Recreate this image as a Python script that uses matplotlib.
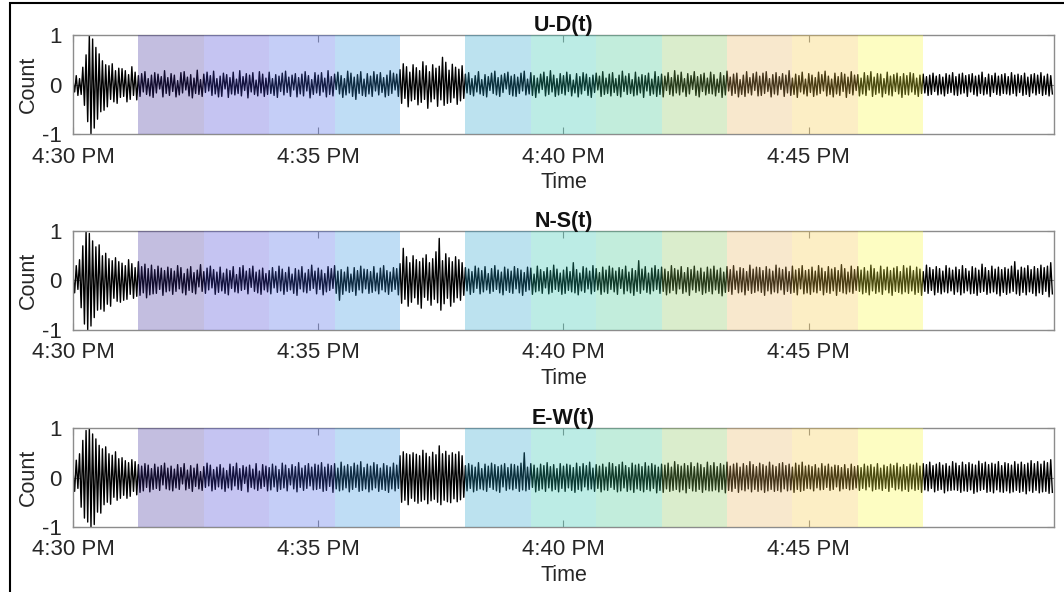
import matplotlib.pyplot as plt
import numpy as np
from matplotlib.patches import Rectangle

plt.rcParams['font.family'] = ['Liberation Sans', 'DejaVu Sans']

# seismometer counts (x0.01), one sample every 2 s starting 4:30 PM, one row per minute
dt = 2

ud = [8, -15, 18, -22, 12, -20, 35, -42, 60, -75, 100, -100, 92, -88, 75, -70, 62, -55, 48, -52, 40, -45, 38, -30, 42, -35, 28, -38, 33, -26,
      32, -24, 28, -35, 20, -30, 36, -22, 25, -31, 18, -24, 22, -15, 26, -20, 12, -23, 19, -26, 24, -17, 21, -9, 16, -25, 28, -18, 14, -22,
      22, -14, 19, -25, 8, -21, 24, -17, 26, -11, 15, -23, 20, -27, 13, -18, 29, -20, 10, -24, 21, -16, 25, -13, 18, -22, 27, -19, 12, -25,
      17, -24, 23, -9, 20, -26, 14, -19, 25, -21, 11, -18, 28, -23, 16, -12, 22, -27, 19, -15, 24, -20, 9, -23, 26, -17, 21, -24, 13, -20,
      25, -18, 12, -22, 20, -26, 17, -14, 23, -21, 27, -16, 15, -24, 19, -11, 22, -25, 14, -19, 21, -23, 26, -13, 18, -27, 10, -20, 24, -17,
      19, -22, 24, -15, 13, -25, 28, -20, 16, -23, 21, -10, 25, -19, 18, -26, 12, -21, 27, -17, 23, -24, 15, -30, 20, -18, 26, -22, 11, -24,
      22, -19, 17, -24, 26, -13, 20, -21, 24, -16, 14, -25, 19, -22, 28, -18, 23, -11, 21, -24, 30, -38, 42, -28, 36, -45, 25, -33, 40, -30,
      34, -41, 28, -36, 46, -30, 38, -48, 26, -35, 40, -29, 33, -44, 37, -31, 55, -42, 45, -38, 29, -36, 41, -27, 35, -40, 31, -33, 38, -28,
      21, -17, 24, -20, 12, -23, 18, -15, 26, -19, 10, -22, 20, -25, 16, -12, 23, -18, 27, -21, 14, -24, 19, -16, 22, -9, 25, -20, 17, -23,
      20, -24, 15, -18, 23, -13, 27, -21, 11, -19, 24, -22, 18, -26, 13, -17, 21, -10, 25, -23, 16, -20, 28, -15, 19, -24, 12, -21, 22, -18,
      18, -21, 25, -14, 20, -23, 9, -17, 22, -25, 16, -19, 24, -12, 21, -22, 14, -26, 19, -16, 23, -11, 17, -24, 26, -20, 13, -18, 21, -23,
      24, -16, 12, -22, 19, -25, 27, -14, 17, -20, 22, -18, 10, -23, 25, -21, 15, -17, 20, -26, 18, -13, 23, -22, 11, -19, 26, -24, 16, -20,
      21, -25, 17, -12, 24, -20, 14, -23, 28, -17, 19, -21, 25, -15, 12, -24, 22, -19, 18, -10, 26, -22, 16, -25, 20, -14, 23, -21, 13, -18,
      25, -19, 20, -23, 11, -16, 24, -26, 18, -21, 27, -13, 15, -22, 21, -18, 23, -25, 10, -20, 19, -24, 26, -17, 14, -21, 22, -12, 25, -23,
      17, -22, 23, -18, 26, -14, 12, -25, 20, -19, 24, -21, 16, -10, 22, -24, 19, -17, 28, -22, 13, -20, 21, -26, 18, -15, 25, -19, 11, -23,
      22, -16, 19, -24, 14, -21, 25, -18, 20, -13, 27, -23, 17, -20, 11, -25, 23, -19, 16, -22, 24, -14, 21, -26, 15, -18, 26, -21, 19, -12,
      20, -23, 13, -19, 24, -22, 18, -11, 26, -24, 15, -20, 22, -17, 21, -25, 12, -18, 25, -21, 17, -23, 20, -14, 23, -19, 16, -26, 22, -20,
      18, -21, 24, -15, 22, -20, 13, -24, 19, -18, 21, -17, 16, -22, 19, -20, 23, -14, 17, -21, 20, -19, 15, -23, 22, -18, 19, -16, 24, -21,
      16, -22, 21, -19, 23, -17, 18, -24, 20, -15, 22, -20, 17, -23, 19, -18, 25, -21, 14, -19, 21, -24, 18, -16, 23, -20, 17, -22, 20, -18,
      22, -19, 16, -21, 24, -18, 19, -23, 21, -16, 18, -22, 23, -20, 15, -24, 20, -17, 22, -21, 19, -18, 24, -22, 17, -20, 21, -23, 18, -19]

ns = [12, -25, 30, -18, 42, -55, 70, -88, 100, -100, 95, -92, 80, -75, 68, -60, 72, -58, 50, -62, 55, -48, 44, -52, 40, -36, 46, -42, 38, -44,
      35, -40, 30, -38, 42, -28, 34, -36, 26, -32, 38, -30, 28, -25, 33, -35, 24, -29, 31, -27, 22, -26, 29, -18, 25, -30, 20, -23, 27, -21,
      24, -28, 19, -22, 30, -17, 26, -25, 14, -29, 23, -20, 28, -24, 16, -27, 21, -13, 32, -22, 18, -26, 25, -19, 29, -15, 22, -28, 17, -24,
      27, -21, 15, -26, 23, -29, 20, -16, 28, -23, 12, -25, 26, -20, 30, -18, 19, -27, 24, -14, 29, -22, 17, -25, 21, -28, 25, -19, 14, -23,
      20, -27, 26, -15, 18, -24, 29, -21, 23, -28, 16, -22, 27, -19, 13, -26, 24, -30, 21, -17, 28, -23, 15, -25, 22, -20, 31, -16, 19, -27,
      25, -18, 21, -29, 14, -23, 28, -20, 24, -16, 30, -26, 19, -40, 22, -28, 17, -21, 27, -24, 13, -22, 26, -30, 20, -19, 29, -25, 23, -17,
      22, -26, 18, -24, 28, -21, 15, -27, 25, -19, 30, -23, 20, -28, 17, -22, 26, -18, 24, -29, 34, -46, 65, -38, 48, -52, 36, -44, 50, -35,
      42, -48, 38, -56, 45, -34, 52, -40, 36, -50, 44, -38, 58, -45, 85, -60, 40, -47, 54, -36, 46, -52, 38, -44, 48, -35, 42, -40, 36, -30,
      26, -21, 23, -28, 18, -24, 29, -16, 25, -27, 20, -23, 28, -19, 14, -26, 24, -22, 30, -18, 21, -25, 17, -29, 27, -20, 23, -24, 19, -26,
      28, -17, 24, -25, 21, -30, 16, -22, 27, -19, 25, -28, 13, -23, 29, -21, 22, -26, 18, -15, 26, -27, 20, -24, 31, -18, 23, -22, 15, -28,
      21, -26, 27, -20, 18, -23, 36, -25, 22, -29, 15, -21, 28, -24, 25, -17, 19, -27, 30, -22, 24, -19, 16, -28, 27, -23, 21, -26, 29, -18,
      25, -23, 19, -28, 26, -16, 22, -27, 29, -21, 17, -25, 24, -30, 20, -22, 40, -26, 23, -19, 28, -24, 15, -27, 25, -21, 30, -18, 22, -26,
      27, -22, 23, -29, 18, -25, 30, -20, 24, -27, 21, -17, 28, -26, 16, -23, 26, -30, 22, -19, 29, -24, 19, -21, 25, -28, 17, -25, 27, -22,
      23, -27, 29, -19, 21, -26, 25, -31, 17, -24, 28, -22, 22, -28, 30, -18, 19, -25, 26, -23, 24, -29, 18, -20, 31, -26, 23, -24, 27, -21,
      26, -24, 20, -30, 28, -21, 23, -27, 19, -23, 31, -25, 25, -19, 22, -28, 27, -22, 18, -26, 29, -24, 21, -29, 24, -17, 30, -27, 20, -25,
      22, -28, 27, -23, 19, -25, 30, -20, 25, -29, 18, -24, 28, -26, 23, -21, 26, -30, 20, -22, 32, -25, 24, -27, 17, -23, 29, -26, 22, -20,
      28, -22, 21, -27, 26, -24, 19, -29, 31, -21, 24, -26, 17, -23, 29, -28, 22, -19, 27, -25, 20, -30, 25, -22, 28, -24, 18, -27, 30, -23,
      25, -26, 29, -21, 20, -28, 27, -24, 23, -30, 18, -22, 31, -26, 26, -20, 22, -29, 28, -24, 24, -27, 19, -23, 30, -25, 25, -21, 21, -28,
      27, -23, 22, -29, 30, -25, 24, -21, 19, -27, 28, -26, 25, -30, 21, -24, 33, -22, 26, -28, 20, -25, 29, -23, 23, -27, 27, -31, 22, -24,
      26, -28, 23, -25, 29, -22, 38, -27, 21, -30, 27, -24, 25, -29, 30, -23, 22, -26, 28, -31, 24, -25, 31, -28, 26, -22, 29, -33, 36, -27]

ew = [15, -28, 35, -22, 48, -60, 75, -82, 95, -90, 100, -100, 88, -95, 78, -70, 65, -72, 58, -55, 62, -50, 48, -54, 45, -40, 52, -46, 38, -42,
      40, -36, 34, -42, 30, -38, 36, -28, 32, -35, 26, -30, 23, -27, 28, -20, 25, -29, 18, -24, 27, -22, 21, -26, 24, -15, 29, -23, 19, -25,
      23, -27, 17, -21, 26, -24, 20, -13, 28, -25, 15, -22, 24, -28, 19, -18, 27, -23, 12, -26, 22, -20, 29, -17, 25, -27, 16, -24, 21, -19,
      26, -23, 19, -28, 14, -21, 27, -25, 22, -17, 29, -24, 18, -26, 24, -12, 21, -29, 25, -20, 17, -23, 28, -26, 13, -22, 26, -18, 23, -27,
      20, -25, 27, -19, 23, -28, 16, -24, 29, -21, 25, -27, 18, -15, 26, -23, 22, -29, 30, -20, 19, -26, 24, -22, 28, -17, 21, -25, 27, -24,
      25, -22, 30, -28, 21, -26, 27, -18, 24, -30, 28, -23, 19, -27, 31, -25, 23, -21, 26, -29, 22, -24, 29, -20, 25, -28, 32, -26, 20, -23,
      27, -29, 23, -25, 30, -21, 26, -28, 19, -24, 28, -26, 24, -30, 21, -23, 29, -27, 25, -22, 44, -50, 52, -46, 48, -55, 46, -42, 50, -48,
      47, -52, 44, -48, 55, -45, 49, -53, 42, -47, 51, -44, 46, -50, 64, -55, 48, -46, 53, -49, 45, -51, 50, -43, 47, -49, 52, -45, 44, -40,
      24, -27, 28, -22, 25, -29, 21, -26, 30, -23, 18, -25, 27, -28, 23, -20, 29, -24, 26, -27, 22, -30, 25, -19, 28, -26, 20, -23, 27, -25,
      26, -22, 23, -28, 29, -25, 50, -27, 21, -24, 28, -20, 25, -29, 19, -26, 27, -23, 24, -28, 30, -21, 22, -27, 26, -24, 18, -29, 28, -22,
      23, -28, 27, -21, 25, -26, 20, -30, 29, -24, 22, -27, 28, -19, 24, -25, 31, -23, 19, -28, 26, -22, 23, -29, 27, -25, 21, -26, 30, -20,
      28, -24, 22, -29, 26, -27, 31, -21, 24, -28, 20, -25, 29, -30, 25, -23, 27, -26, 22, -29, 30, -24, 23, -27, 28, -22, 25, -31, 21, -26,
      27, -30, 25, -23, 29, -28, 21, -26, 32, -24, 26, -29, 23, -25, 28, -31, 24, -22, 30, -27, 22, -28, 29, -24, 26, -30, 20, -25, 31, -27,
      24, -27, 30, -25, 22, -29, 28, -24, 25, -31, 31, -26, 23, -28, 27, -22, 29, -30, 21, -25, 28, -27, 24, -23, 32, -29, 26, -24, 22, -28,
      29, -25, 26, -30, 23, -27, 31, -24, 25, -28, 22, -26, 28, -29, 30, -23, 24, -27, 27, -25, 21, -30, 29, -24, 25, -28, 31, -26, 23, -22,
      25, -23, 22, -27, 26, -21, 19, -25, 28, -24, 23, -20, 27, -26, 21, -24, 25, -19, 24, -27, 20, -23, 26, -22, 18, -25, 27, -24, 22, -21,
      24, -26, 20, -22, 27, -25, 23, -19, 26, -27, 21, -24, 28, -23, 19, -26, 25, -22, 22, -28, 27, -20, 24, -25, 29, -23, 21, -27, 26, -24,
      22, -28, 27, -23, 25, -26, 29, -24, 23, -30, 28, -25, 26, -27, 31, -22, 24, -29, 27, -26, 30, -24, 25, -31, 28, -27, 23, -26, 32, -25,
      29, -26, 24, -30, 31, -27, 26, -28, 30, -25, 27, -32, 25, -29, 33, -26, 28, -24, 31, -30, 26, -28, 29, -31, 27, -25, 32, -29, 24, -30,
      30, -27, 28, -31, 25, -29, 32, -26, 27, -30, 31, -28, 26, -33, 29, -27, 34, -30, 28, -26, 32, -31, 27, -29, 33, -28, 30, -32, 36, -30]

titles = ['U-D(t)', 'N-S(t)', 'E-W(t)']
tick_pos = [0, 300, 600, 900]
tick_labels = ['4:30 PM', '4:35 PM', '4:40 PM', '4:45 PM']

# 80 s analysis windows (seconds after 4:30 PM)
window_starts = [80, 160, 240, 320, 480, 560, 640, 720, 800, 880, 960]
window_len = 80
window_colors = ['#3b2999', '#403dd4', '#425ee6', '#2e8fde', '#24a1cc', '#24c2ab',
                 '#38c48c', '#85c459', '#e8b35c', '#f7c740', '#fafa38']

fig = plt.figure(figsize=(10.64, 5.92), dpi=100)
frame = '#8c8c8c'
bottoms = [0.7736, 0.4426, 0.1098]

for trace, title, b in zip([ud, ns, ew], titles, bottoms):
    ax = fig.add_axes([0.0686, b, 0.922, 0.1672])
    y = np.array(trace) / 100
    t = np.arange(len(y)) * dt
    ax.plot(t, y, color='k', lw=1.0, zorder=2)
    for s, c in zip(window_starts, window_colors):
        ax.axvspan(s, s + window_len, color=c, alpha=0.3, lw=0, zorder=3)
    ax.set_xlim(0, 1200)
    ax.set_ylim(-1, 1)
    ax.set_xticks(tick_pos)
    ax.set_xticklabels(tick_labels)
    ax.set_yticks([-1, 0, 1])
    ax.set_yticklabels(['-1', '0', '1'])
    ax.tick_params(direction='in', top=True, right=True, length=5, color=frame,
                   labelsize=16, labelcolor='#262626')
    ax.tick_params(axis='x', pad=9)
    ax.tick_params(axis='y', pad=8)
    for sp in ax.spines.values():
        sp.set_color(frame)
        sp.set_linewidth(1)
    ax.set_title(title, fontsize=15.5, fontweight='bold', pad=3, color='#111111')
    ax.set_xlabel('Time', fontsize=15.5, color='#262626', labelpad=3)
    ax.set_ylabel('Count', fontsize=15.5, color='#262626', labelpad=2)

# outer border of the figure panel
fig.patches.append(Rectangle((10 / 1064, -0.05), 1.05, 1.05 - 3 / 592, fill=False,
                             ec='k', lw=1.5, transform=fig.transFigure, clip_on=False))

fig.savefig('out.png', dpi=100)
